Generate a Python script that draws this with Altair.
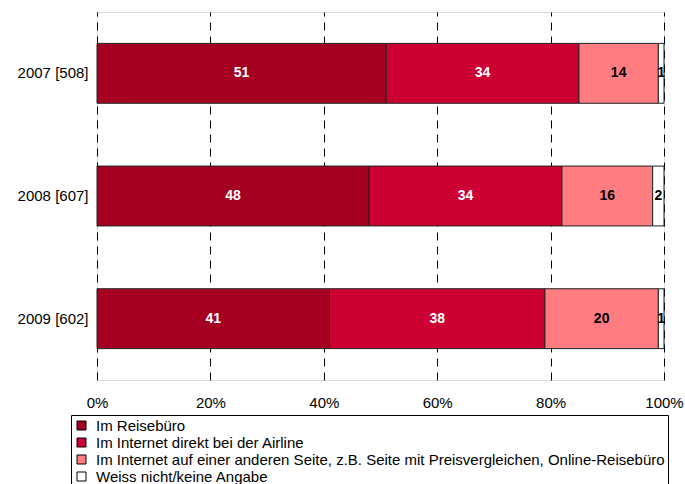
import altair as alt
import pandas as pd

years = ["2007 [508]", "2008 [607]", "2009 [602]"]
categories = [
    "Im Reisebüro",
    "Im Internet direkt bei der Airline",
    "Im Internet auf einer anderen Seite, z.B. Seite mit Preisvergleichen, Online-Reisebüro",
    "Weiss nicht/keine Angabe",
]
colors = ["#A50021", "#CC0033", "#FF7C80", "#FFFFFF"]
text_colors = ["white", "white", "black", "black"]
values = {
    "Im Reisebüro": [51, 48, 41],
    "Im Internet direkt bei der Airline": [34, 34, 38],
    "Im Internet auf einer anderen Seite, z.B. Seite mit Preisvergleichen, Online-Reisebüro": [14, 16, 20],
    "Weiss nicht/keine Angabe": [1, 2, 1],
}

rows = []
for ci, c in enumerate(categories):
    for yi, y in enumerate(years):
        rows.append({"year": y, "cat": c, "value": values[c][yi], "order": ci,
                     "tcolor": text_colors[ci]})
df = pd.DataFrame(rows)

FONT = "Liberation Sans"

base = alt.Chart(df).transform_stack(
    stack="value", groupby=["year"], as_=["v0", "v1"],
    sort=[alt.SortField("order", order="ascending")]
).transform_calculate(mid="(datum.v0 + datum.v1) / 2")

yenc = alt.Y("year:N", sort=years, title=None,
             scale=alt.Scale(paddingInner=0.512, paddingOuter=0.256),
             axis=alt.Axis(ticks=False, domain=False, labelFont=FONT, labelFontSize=15,
                           labelColor="black", labelPadding=9))

bars = base.mark_bar(stroke="#222222", strokeWidth=1).encode(
    x=alt.X("v0:Q", title=None, scale=alt.Scale(domain=[0, 100], nice=False),
            axis=alt.Axis(values=[0, 20, 40, 60, 80, 100], labelExpr="datum.value + '%'",
                          ticks=False, domain=False, grid=True, gridColor="black",
                          gridDash=[8, 6], gridWidth=1, labelFont=FONT, labelFontSize=15,
                          labelColor="black", labelPadding=15, labelFlush=False)),
    x2="v1:Q",
    y=yenc,
    color=alt.Color("cat:N", sort=categories,
                    scale=alt.Scale(domain=categories, range=colors),
                    legend=alt.Legend(title=None, orient="none", legendX=-26, legendY=403,
                                      symbolType="square", symbolSize=81,
                                      symbolStrokeColor="black", symbolStrokeWidth=1,
                                      labelFont=FONT, labelFontSize=15, labelColor="black",
                                      labelLimit=1000, rowPadding=1, labelOffset=7,
                                      strokeColor="black", padding=3, cornerRadius=0)),
    order=alt.Order("order:Q"),
)

texts = base.mark_text(font=FONT, fontSize=14, fontWeight="bold").encode(
    x=alt.X("mid:Q"),
    y=alt.Y("year:N", sort=years),
    text=alt.Text("value:Q"),
    color=alt.Color("tcolor:N", scale=None),
)

chart = alt.layer(bars, texts).properties(
    width=567, height=368,
    autosize=alt.AutoSizeParams(type="none"),
    padding={"left": 97, "top": 12, "right": 21, "bottom": 104},
).configure_view(stroke="black", strokeWidth=1).configure(background="white")

chart.save("out.html", embed_options={"renderer": "svg", "actions": False})
